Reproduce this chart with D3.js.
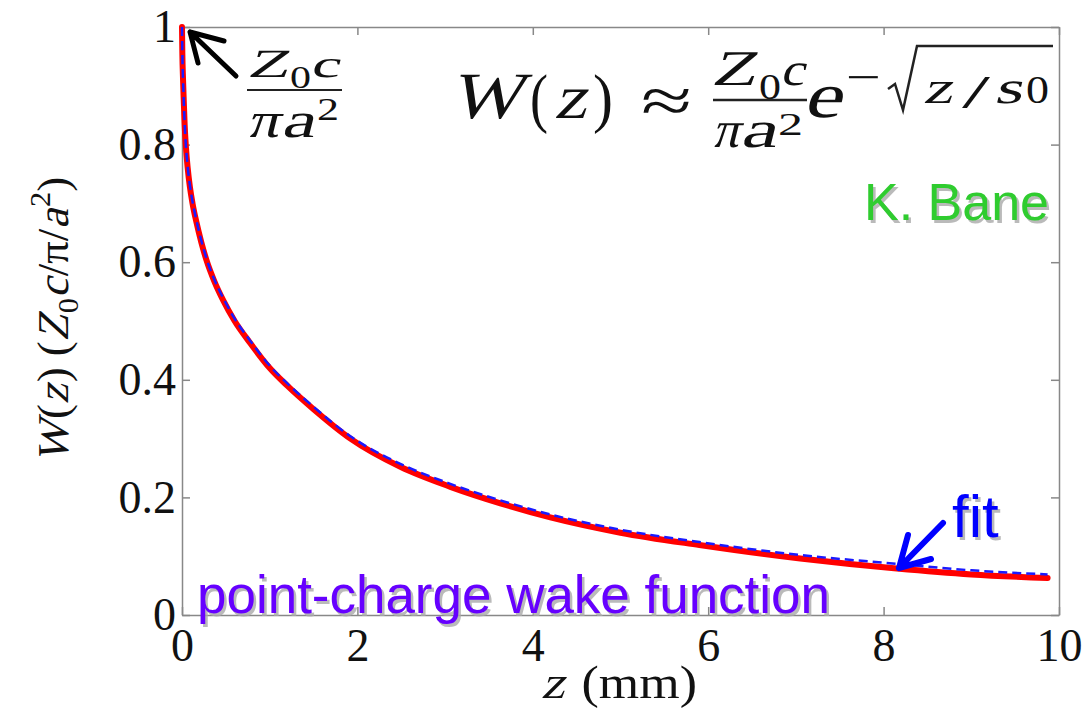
<!DOCTYPE html>
<html>
<head>
<meta charset="utf-8">
<script src="https://cdn.jsdelivr.net/npm/d3@7"></script>
<style>
  body { margin: 0; background: #fff; }
  .tick text { font-family: "Liberation Serif", serif; font-size: 46px; fill: #111; }
  .tick line, .domain { stroke: #888; stroke-width: 1.5; }
  .math text { font-family: "Liberation Serif", serif; fill: #111; }
  .sans { font-family: "Liberation Sans", Arial, sans-serif; }
</style>
</head>
<body>
<div id="chart"></div>
<script>
// data
const zVals = [0, 0.004, 0.012, 0.02, 0.03, 0.045, 0.065, 0.09, 0.12, 0.16, 0.22, 0.28, 0.37, 0.47, 0.6, 0.775, 1.0, 1.2, 1.5, 1.92, 2.49, 3.06, 3.63, 4.2, 5.0, 5.9, 7.05, 8.15, 9.0, 9.87];
const wakeVals = [1.0, 0.955, 0.91, 0.875, 0.835, 0.795, 0.760, 0.728, 0.700, 0.671, 0.634, 0.603, 0.567, 0.535, 0.500, 0.463, 0.420, 0.390, 0.350, 0.300, 0.252, 0.218, 0.190, 0.166, 0.140, 0.119, 0.096, 0.079, 0.069, 0.063];
const fitVals = [1.0, 0.955, 0.91, 0.875, 0.836, 0.797, 0.762, 0.731, 0.703, 0.674, 0.637, 0.606, 0.570, 0.539, 0.504, 0.467, 0.424, 0.394, 0.354, 0.304, 0.257, 0.223, 0.195, 0.171, 0.145, 0.124, 0.102, 0.087, 0.076, 0.069];
const xTicks = [0, 2, 4, 6, 8, 10];
const yTicks = [0, 0.2, 0.4, 0.6, 0.8, 1];

const margin = {top: 27, right: 25, bottom: 94, left: 182},
      width = 1084 - margin.left - margin.right,
      height = 709 - margin.top - margin.bottom;

const root = d3.select("#chart")
    .append("svg")
    .attr("width", 1084)
    .attr("height", 709);

const svg = root.append("g")
    .attr("transform", `translate(${margin.left},${margin.top})`);

const x = d3.scaleLinear().domain([0, 10]).range([0, width]);
const y = d3.scaleLinear().domain([0, 1]).range([height, 0]);

const fmt = d => d3.format("")(d);

// box axes, ticks pointing inward like matlab
svg.append("g")
    .attr("transform", `translate(0,${height})`)
    .call(d3.axisBottom(x).tickValues(xTicks).tickFormat(fmt).tickSizeInner(-8).tickSizeOuter(0).tickPadding(13));
svg.append("g")
    .call(d3.axisTop(x).tickValues(xTicks).tickFormat("").tickSizeInner(-8).tickSizeOuter(0));
svg.append("g")
    .call(d3.axisLeft(y).tickValues(yTicks).tickFormat(fmt).tickSizeInner(-8).tickSizeOuter(0).tickPadding(6));
svg.append("g")
    .attr("transform", `translate(${width},0)`)
    .call(d3.axisRight(y).tickValues(yTicks).tickFormat("").tickSizeInner(-8).tickSizeOuter(0));

const line = d3.line()
    .x((d, i) => x(zVals[i]))
    .y(d => y(d))
    .curve(d3.curveMonotoneX);

svg.append("path")
    .attr("fill", "none")
    .attr("stroke", "#ff0000")
    .attr("stroke-width", 6)
    .attr("stroke-linecap", "round")
    .attr("d", line(wakeVals));

svg.append("path")
    .attr("fill", "none")
    .attr("stroke", "#1a1aff")
    .attr("stroke-width", 2.5)
    .attr("stroke-dasharray", "9,5")
    .attr("d", line(fitVals));

// serif italic is faked with a skew, the italic face falls back to a sans
function mathRun(g, pieces, size) {
    let cx = 0;
    pieces.forEach(p => {
        const t = g.append("text")
            .attr("transform", `translate(${cx},${p.dy || 0})` + (p.it ? " skewX(-14)" : ""))
            .style("font-size", (p.size || size) + "px")
            .style("white-space", "pre")
            .text(p.t);
        cx += t.node().getComputedTextLength() + (p.gap || 0);
    });
    return cx;
}

// axis labels
const xl = root.append("g").attr("class", "math");
const xlw = mathRun(xl, [{t: "z", it: true, gap: 4}, {t: "\u00a0(mm)"}], 46);
xl.attr("transform", `translate(541,698) scale(${156 / xlw},1)`);

const yl = root.append("g").attr("class", "math");
const ylw = mathRun(yl, [
    {t: "W", it: true, gap: 2}, {t: "("}, {t: "z", it: true, gap: 2}, {t: ")\u00a0("},
    {t: "Z", it: true, gap: 1}, {t: "0", size: 30, dy: 10}, {t: "c", it: true, gap: 2},
    {t: "/π/"}, {t: "a", it: true, gap: 2}, {t: "2", size: 30, dy: -18}, {t: ")"}
], 44);
yl.attr("transform", `translate(68,463) rotate(-90) scale(${286 / ylw},1)`);

// one glyph squeezed/stretched into its measured span
function glyph(g, t, x0, x1, base, size, italic) {
    g.append("text")
        .attr("transform", `translate(${x0},${base})` + (italic ? " skewX(-14)" : ""))
        .attr("textLength", x1 - x0)
        .attr("lengthAdjust", "spacingAndGlyphs")
        .style("font-size", size + "px")
        .text(t);
}

// big formula, top right
const f = root.append("g").attr("class", "math");
glyph(f, "W", 450, 522, 118, 66, true);
glyph(f, "(", 530, 548, 120, 66, false);
glyph(f, "z", 554, 586, 118, 62, true);
glyph(f, ")", 593, 613, 120, 66, false);
glyph(f, "≈", 641, 692, 122, 64, false);
glyph(f, "Z", 711, 756, 85, 50, true);
glyph(f, "0", 759, 781, 99, 36, false);
glyph(f, "c", 780, 804, 85, 46, true);
f.append("line").attr("x1", 713).attr("x2", 807).attr("y1", 100).attr("y2", 100).attr("stroke", "#222").attr("stroke-width", 2.5);
glyph(f, "π", 712, 739, 147, 52, true);
glyph(f, "a", 740, 776, 147, 52, true);
glyph(f, "2", 778, 803, 135, 32, false);
glyph(f, "e", 803, 841, 117, 64, true);
glyph(f, "−", 846, 881, 92, 44, false);
f.append("path").attr("d", "M888,89 L895,84 L903,110 L917,46 L1053,46")
    .attr("fill", "none").attr("stroke", "#222").attr("stroke-width", 2.5);
glyph(f, "z", 923, 952, 103, 46, true);
glyph(f, "/", 962, 990, 108, 46, false);
glyph(f, "s", 994, 1022, 103, 46, true);
glyph(f, "0", 1026, 1049, 103, 40, false);

// small Z0c/πa² note with black arrow at top-left
const n = root.append("g").attr("class", "math");
glyph(n, "Z", 247, 289, 77, 40, true);
glyph(n, "0", 290, 311, 88, 32, false);
glyph(n, "c", 310, 339, 77, 38, true);
n.append("line").attr("x1", 247).attr("x2", 342).attr("y1", 90).attr("y2", 90).attr("stroke", "#222").attr("stroke-width", 2);
glyph(n, "π", 247, 279, 137, 50, true);
glyph(n, "a", 281, 314, 137, 50, true);
glyph(n, "2", 317, 339, 120, 32, false);
n.append("path").attr("d", "M236,76 L190,32 M224,41 L190,32 L198,63")
    .attr("fill", "none").attr("stroke", "#000").attr("stroke-width", 5).attr("stroke-linecap", "round").attr("stroke-linejoin", "round");

// coloured notes with a soft grey shadow
function shadowText(txt, px, py, size, color, anchor, len) {
    [[2.5, "#aaa"], [0, color]].forEach(([off, c]) => {
        const t = root.append("text").attr("class", "sans")
            .attr("x", px + off).attr("y", py + off)
            .attr("text-anchor", anchor)
            .style("font-size", size + "px")
            .attr("fill", c)
            .attr("opacity", off ? 0.8 : 1)
            .text(txt);
        if (len) t.attr("textLength", len).attr("lengthAdjust", "spacingAndGlyphs");
    });
}

shadowText("K. Bane", 1049, 220, 52, "#2fcc2f", "end");
shadowText("point-charge wake function", 197, 613, 53, "#6600ff", "start", 633);
shadowText("fit", 952, 537, 60, "#0000ff", "start");

// blue arrow for "fit"
root.append("path").attr("d", "M943,523 L899,568 M908,535 L899,568 L931,559")
    .attr("fill", "none").attr("stroke", "#0000ff").attr("stroke-width", 6)
    .attr("stroke-linecap", "round").attr("stroke-linejoin", "round");
</script>
</body>
</html>
